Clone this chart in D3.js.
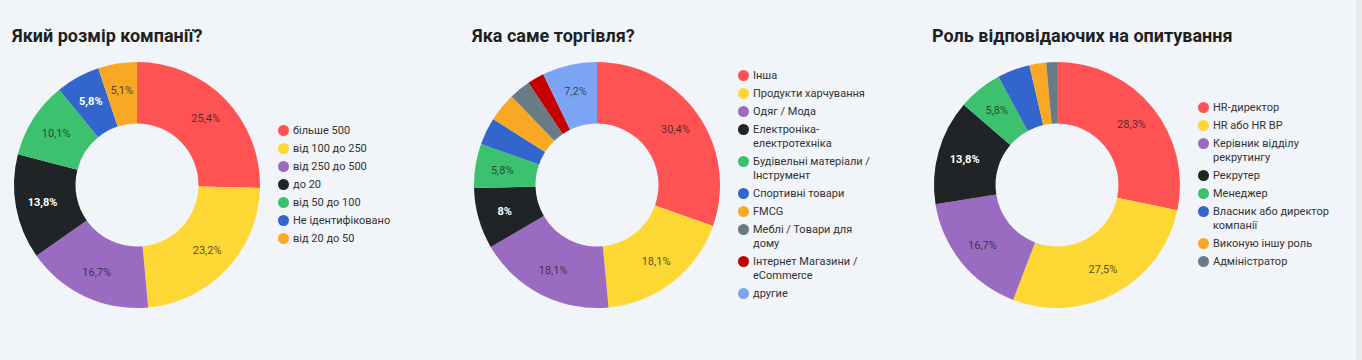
<!DOCTYPE html>
<html>
<head>
<meta charset="utf-8">
<script src="https://cdn.jsdelivr.net/npm/d3@7"></script>
<style>
  html, body { margin: 0; padding: 0; background: #f1f4f8; }
  svg { display: block; font-family: Roboto, "Noto Sans", sans-serif; }
</style>
</head>
<body>
<svg id="chart" width="1362" height="360"></svg>
<script>
// ---------- DATA ----------
const titles = ["Який розмір компанії?", "Яка саме торгівля?", "Роль відповідаючих на опитування"];

const sizeCategories = ["більше 500", "від 100 до 250", "від 250 до 500", "до 20", "від 50 до 100", "Не ідентифіковано", "від 20 до 50"];
const sizeValues = [25.4, 23.2, 16.7, 13.8, 10.1, 5.8, 5.1];

const tradeCategories = ["Інша", "Продукти харчування", "Одяг / Мода", "Електроніка-електротехніка", "Будівельні матеріали / Інструмент", "Спортивні товари", "FMCG", "Меблі / Товари для дому", "Інтернет Магазини / eCommerce", "другие"];
const tradeValues = [30.4, 18.1, 18.1, 8, 5.8, 3.6, 3.8, 2.8, 2.2, 7.2];

const roleCategories = ["HR-директор", "HR або HR BP", "Керівник відділу рекрутингу", "Рекрутер", "Менеджер", "Власник або директор компанії", "Виконую іншу роль", "Адміністратор"];
const roleValues = [28.3, 27.5, 16.7, 13.8, 5.8, 4.3, 2.2, 1.4];

const palette = ["#ff5252", "#fdd835", "#9a6cc1", "#212427", "#3cc26e", "#3366cc", "#f9a825", "#697b87", "#c40000", "#7ba5f4"];
const darkColors = ["#212427", "#3366cc", "#c40000"];

// ---------- DRAW ----------
const svg = d3.select("#chart");
svg.append("rect").attr("x", 0).attr("y", 0).attr("width", 1362).attr("height", 360).attr("fill", "#f1f4f8");
svg.append("rect").attr("x", 1356).attr("y", 0).attr("width", 6).attr("height", 360).attr("fill", "#ebebeb");

const charts = [
  { title: titles[0], cats: sizeCategories, vals: sizeValues, cx: 137 },
  { title: titles[1], cats: tradeCategories, vals: tradeValues, cx: 597 },
  { title: titles[2], cats: roleCategories, vals: roleValues, cx: 1057 }
];

const cy = 185, outerR = 123, innerR = 61.5, labelR = 96;
const fmt = v => (Math.round(v * 10) / 10).toString().replace(".", ",") + "%";

charts.forEach(ch => {
  const g = svg.append("g");
  g.append("text")
    .attr("x", ch.cx - 125).attr("y", 42)
    .attr("font-size", 18).attr("font-weight", 700).attr("fill", "#1f1f1f")
    .text(ch.title);

  const color = d3.scaleOrdinal().domain(ch.cats).range(palette);
  const total = d3.sum(ch.vals);
  const data = ch.cats.map((c, i) => ({ cat: c, val: ch.vals[i] }));
  const pie = d3.pie().value(d => d.val).sort(null);
  const arcs = pie(data);
  const arc = d3.arc().innerRadius(innerR).outerRadius(outerR);
  const labelArc = d3.arc().innerRadius(labelR).outerRadius(labelR);

  const pg = g.append("g").attr("transform", `translate(${ch.cx},${cy})`);
  pg.selectAll("path").data(arcs).join("path")
    .attr("d", arc).attr("fill", d => color(d.data.cat));

  pg.selectAll("text").data(arcs.filter(d => d.data.val / total >= 0.05)).join("text")
    .attr("transform", d => `translate(${labelArc.centroid(d)})`)
    .attr("text-anchor", "middle").attr("dy", "0.35em")
    .attr("font-size", 11)
    .attr("font-weight", d => darkColors.includes(color(d.data.cat)) ? 700 : 400)
    .attr("fill", d => darkColors.includes(color(d.data.cat)) ? "#ffffff" : "rgba(30,30,30,0.78)")
    .text(d => fmt(d.data.val));

  // legend
  const lg = g.append("g");
  const maxW = 120;
  const items = [];
  ch.cats.forEach(c => {
    const t = lg.append("text").attr("font-size", 11).attr("fill", "#333");
    // split into tokens on spaces and after hyphens
    const tokens = c.replace(/-/g, "-\u0000").split(/(?<=\u0000)| /).map(s => s.replace("\u0000", ""));
    const lines = [];
    let cur = "";
    const probe = lg.append("text").attr("font-size", 11).attr("visibility", "hidden");
    tokens.forEach(tok => {
      const joiner = cur === "" ? "" : (cur.endsWith("-") ? "" : " ");
      const test = cur + joiner + tok;
      probe.text(test);
      if (cur !== "" && probe.node().getComputedTextLength() > maxW) {
        lines.push(cur);
        cur = tok;
      } else cur = test;
    });
    lines.push(cur);
    probe.remove();
    items.push({ cat: c, lines, node: t });
  });
  const rowH = 18, lineH = 14;
  const totalH = items.reduce((s, it, i) => s + (i > 0 ? rowH + (items[i - 1].lines.length - 1) * lineH : 0), 0);
  let y = cy - totalH / 2 - 0.5;
  items.forEach((it, i) => {
    if (i > 0) y += rowH + (items[i - 1].lines.length - 1) * lineH;
    lg.append("circle").attr("cx", ch.cx + 146.5).attr("cy", y).attr("r", 5.5).attr("fill", color(it.cat));
    it.node.attr("x", ch.cx + 156).attr("y", y);
    it.lines.forEach((ln, j) => {
      it.node.append("tspan").attr("x", ch.cx + 156).attr("dy", j === 0 ? "0.35em" : lineH).text(ln);
    });
  });
});
</script>
</body>
</html>
